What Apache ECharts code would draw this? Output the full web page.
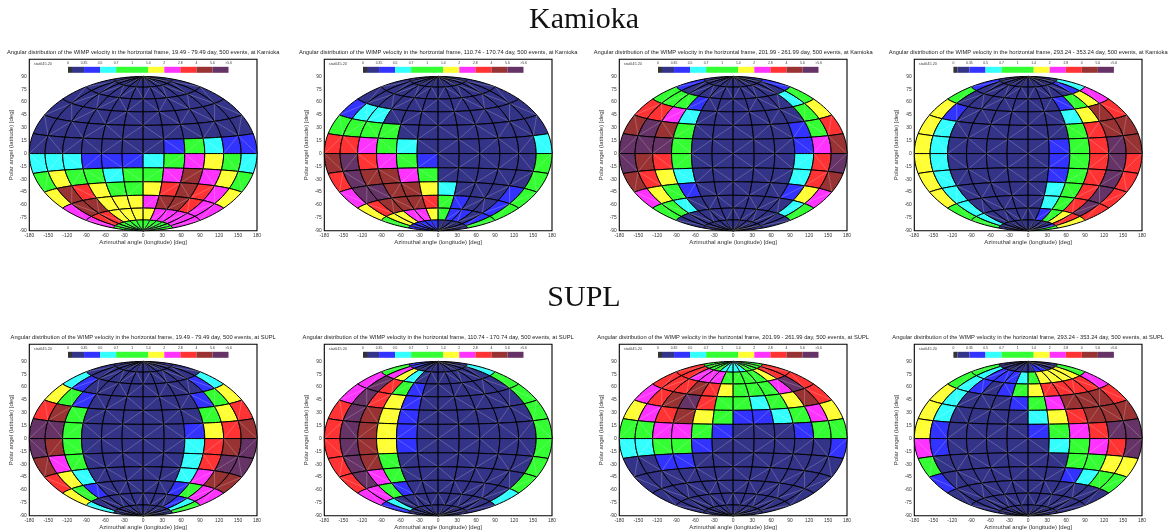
<!DOCTYPE html>
<html><head><meta charset="utf-8">
<style>html,body{margin:0;padding:0;background:#fff}#c{width:1174px;height:532px}</style>
<script src="https://cdn.jsdelivr.net/npm/echarts@6/dist/echarts.min.js"></script>
</head><body><div id="c"></div>
<script>
// Bin index per cell: rows run from latitude +90 down to -90, columns from longitude -180 to +180.
const kamioka1 = [
[1,1,1,1,1,1,1,1,1,1,1,1],[1,1,1,1,1,1,1,1,1,1,1,1],[1,1,1,1,1,1,1,1,1,1,1,1],[1,1,1,1,1,1,1,1,1,1,1,1],
[1,1,1,1,1,1,1,1,1,1,1,1],[1,1,1,1,1,1,1,2,4,3,2,2],[3,3,3,2,2,2,3,4,6,5,4,3],[4,5,4,4,3,4,4,6,8,6,5,4],
[5,8,7,5,4,4,5,7,8,7,6,5],[6,8,8,5,5,5,6,8,8,7,6,6],[6,7,7,5,5,5,5,6,6,6,6,6],[4,4,4,4,4,4,4,4,4,4,4,4]];
const kamioka2 = [
[1,1,1,1,1,1,1,1,1,1,1,1],[1,1,1,1,1,1,1,1,1,1,1,1],[1,1,1,1,1,1,1,1,1,1,1,1],[2,3,3,1,1,1,1,1,1,1,1,1],
[4,4,4,4,1,1,1,1,1,1,1,1],[7,7,6,4,3,1,1,1,1,1,1,3],[8,9,7,6,4,2,1,1,1,1,1,4],[7,9,8,8,6,4,1,1,1,1,1,4],
[6,9,9,8,8,5,3,1,1,1,2,4],[5,7,8,8,8,7,4,2,1,1,2,4],[4,5,5,6,6,5,4,2,2,1,2,4],[2,2,2,2,2,2,1,1,1,1,1,1]];
const kamioka3 = [
[1,1,1,1,1,1,1,1,1,1,1,1],[2,1,1,1,1,1,1,1,1,1,1,2],[4,4,4,2,1,1,1,1,1,1,3,4],[7,7,6,3,1,1,1,1,1,1,4,5],
[8,9,8,4,1,1,1,1,1,2,4,7],[9,9,9,4,1,1,1,1,1,2,6,8],[9,8,7,4,1,1,1,1,1,3,7,9],[8,7,5,3,1,1,1,1,1,3,7,8],
[6,5,4,2,1,1,1,1,1,2,5,6],[4,4,3,1,1,1,1,1,1,1,3,4],[1,1,1,1,1,1,1,1,1,1,1,1],[1,1,1,1,1,1,1,1,1,1,1,1]];
const kamioka4 = [
[1,1,1,1,1,1,1,1,1,1,1,1],[2,1,1,1,1,1,1,1,1,1,2,3],[4,1,1,1,1,1,1,1,2,4,5,6],[5,2,1,1,1,1,1,1,3,5,8,7],
[5,3,1,1,1,1,1,1,4,7,8,8],[5,3,1,1,1,1,1,2,4,7,9,8],[5,3,1,1,1,1,1,2,4,7,9,7],[5,3,1,1,1,1,1,2,4,7,9,7],
[5,3,1,1,1,1,1,3,4,7,9,7],[4,3,1,1,1,1,1,3,4,7,9,7],[4,3,1,1,1,1,1,2,4,5,7,5],[1,1,1,1,1,1,1,1,1,1,2,4]];
const supl1 = [
[1,1,1,1,1,1,1,1,1,1,1,1],[1,1,1,1,1,1,1,1,1,1,1,1],[3,2,1,1,1,1,1,1,1,1,2,3],[5,4,2,1,1,1,1,1,1,2,4,5],
[7,8,4,1,1,1,1,1,1,4,5,7],[9,9,4,1,1,1,1,1,2,5,7,8],[9,8,4,1,1,1,1,1,3,7,8,9],[8,6,4,1,1,1,1,1,3,7,9,9],
[7,5,3,1,1,1,1,1,3,6,8,8],[5,4,2,1,1,1,1,1,2,4,6,6],[3,1,1,1,1,1,1,1,1,2,3,4],[1,1,1,1,1,1,1,1,1,1,1,1]];
const supl2 = [
[2,2,1,1,1,1,1,1,1,1,1,1],[4,6,5,3,1,1,1,1,1,1,1,3],[6,9,7,4,2,1,1,1,1,1,1,4],[6,9,7,5,2,1,1,1,1,1,1,4],
[7,9,8,5,2,1,1,1,1,1,1,4],[7,9,8,5,2,1,1,1,1,1,1,4],[7,9,8,5,2,1,1,1,1,1,1,4],[7,9,8,4,1,1,1,1,1,1,1,4],
[7,9,6,4,1,1,1,1,1,1,1,4],[6,6,4,2,1,1,1,1,1,1,1,3],[2,3,1,1,1,1,1,1,1,1,1,1],[1,1,1,1,1,1,1,1,1,1,1,1]];
const supl3 = [
[4,4,4,4,3,3,3,3,4,4,4,4],[7,7,6,6,6,4,4,4,4,5,7,7],[7,7,7,8,7,5,4,4,4,6,9,7],[6,7,8,9,7,4,4,3,4,5,8,7],
[5,6,7,8,5,4,2,2,3,4,6,5],[4,4,6,6,4,2,1,1,1,2,4,4],[3,3,4,4,2,1,1,1,1,1,1,2],[1,1,2,2,1,1,1,1,1,1,1,1],
[1,1,1,1,1,1,1,1,1,1,1,1],[1,1,1,1,1,1,1,1,1,1,1,1],[1,1,1,1,1,1,1,1,1,1,1,1],[1,1,1,1,1,1,1,1,1,1,1,1]];
const supl4 = [
[1,1,1,1,1,1,1,2,2,1,1,1],[4,3,2,2,2,3,4,5,5,5,5,4],[4,3,2,1,2,4,5,7,7,7,7,6],[5,3,1,1,1,2,4,6,8,8,8,7],
[5,3,1,1,1,1,3,5,7,8,8,8],[5,2,1,1,1,1,2,4,6,7,9,9],[6,2,1,1,1,1,1,3,4,6,7,9],[4,1,1,1,1,1,1,1,4,4,5,5],
[2,1,1,1,1,1,1,1,2,3,4,4],[1,1,1,1,1,1,1,1,1,1,1,1],[1,1,1,1,1,1,1,1,1,1,1,1],[1,1,1,1,1,1,1,1,1,1,1,1]];

const lonEdges = [-180,-150,-120,-90,-60,-30,0,30,60,90,120,150,180];
const latEdges = [90,75,60,45,30,15,0,-15,-30,-45,-60,-75,-90];
const xTicks = lonEdges;
const yTicks = [-90,-75,-60,-45,-30,-15,0,15,30,45,60,75,90];
const legendLabels = ['0','0.35','0.5','0.7','1','1.4','2','2.8','4','5.6','>5.6'];
const legendStops = [0,0.25,1,2,3,5,6,7,8,9,10];
const binColors = ['#333333','#333388','#3333ff','#33ffff','#33ff33','#ffff33','#ff33ff','#ff3333','#993333','#663366'];

const panelMaps = [kamioka1,kamioka2,kamioka3,kamioka4,supl1,supl2,supl3,supl4];
const panelWindows = ['19.49 - 79.49','110.74 - 170.74','201.99 - 261.99','293.24 - 353.24',
                      '19.49 - 79.49','110.74 - 170.74','201.99 - 261.99','293.24 - 353.24'];
const panelSites = ['Kamioka','Kamioka','Kamioka','Kamioka','SUPL','SUPL','SUPL','SUPL'];
const panelStamp = ['stat045.20','stat045.20','stat045.20','stat045.20','stat045.20','stat045.20','stat045.20','stat045.20'];

// Hammer equal-area projection scaled to the -180..180 / -90..90 axes.
function hammer(lon, lat){
  const p = lat*Math.PI/180, l = lon*Math.PI/180;
  const d = Math.sqrt(1 + Math.cos(p)*Math.cos(l/2));
  return [180*Math.cos(p)*Math.sin(l/2)/d, 90*Math.sin(p)/d];
}
function renderCell(params, api){
  const lon0 = api.value(0), lon1 = api.value(1), lat0 = api.value(2), lat1 = api.value(3), bin = api.value(4);
  const pts = [], N = 6;
  for(let i=0;i<=N;i++) pts.push(hammer(lon0+(lon1-lon0)*i/N, lat0));
  for(let i=0;i<=N;i++) pts.push(hammer(lon1, lat0+(lat1-lat0)*i/N));
  for(let i=0;i<=N;i++) pts.push(hammer(lon1-(lon1-lon0)*i/N, lat1));
  for(let i=0;i<=N;i++) pts.push(hammer(lon0, lat1-(lat1-lat0)*i/N));
  const flip = (Math.round((lon0+180)/30)+Math.round((90-lat0)/15))%2===0;
  const a = api.coord(flip?hammer(lon0,lat0):hammer(lon1,lat0));
  const b = api.coord(flip?hammer(lon1,lat1):hammer(lon0,lat1));
  return {type:'group',children:[
    {type:'polygon',shape:{points:pts.map(p=>api.coord(p))},style:{fill:binColors[bin],stroke:'#000',lineWidth:1}},
    {type:'line',shape:{x1:a[0],y1:a[1],x2:b[0],y2:b[1]},style:{stroke:'rgba(255,255,255,0.38)',lineWidth:0.55}}
  ]};
}
function renderSwatch(params, api){
  const a = api.coord([api.value(0),0]), b = api.coord([api.value(1),1]);
  return {type:'rect',shape:{x:a[0],y:b[1],width:b[0]-a[0],height:a[1]-b[1]},style:{fill:binColors[api.value(2)]}};
}

const W=227.7,H=171.4;
const lefts=[29.3,324.3,619.3,914.3], tops=[59.3,344.3];
const grid=[],xAxis=[],yAxis=[],series=[],title=[];
const tf='"Liberation Sans",Arial,sans-serif';
title.push({text:'Kamioka',left:584,top:5,padding:0,textAlign:'center',textStyle:{fontFamily:'"Liberation Serif",serif',fontWeight:'normal',fontSize:30,color:'#111'}});
title.push({text:'SUPL',left:584,top:283,padding:0,textAlign:'center',textStyle:{fontFamily:'"Liberation Serif",serif',fontWeight:'normal',fontSize:30,color:'#111'}});
panelMaps.forEach((rows,k)=>{
  const L=lefts[k%4], T=tops[k<4?0:1];
  grid.push({left:L,top:T,width:W,height:H,show:true,borderColor:'#000',borderWidth:1.1,backgroundColor:'#fff'});
  const gi=grid.length-1;
  xAxis.push({type:'value',gridIndex:gi,min:-180,max:180,interval:30,splitLine:{show:false},axisLine:{show:false},
    axisTick:{show:true,inside:true,length:2,lineStyle:{color:'#000',width:0.5},customValues:xTicks},
    axisLabel:{fontSize:4.9,margin:2.5,color:'#333',fontFamily:tf,customValues:xTicks},
    name:'Azimuthal angle (longitude) [deg]',nameLocation:'middle',nameGap:9,nameTextStyle:{fontSize:6,color:'#333',fontFamily:tf}});
  yAxis.push({type:'value',gridIndex:gi,min:-90,max:110,interval:15,splitLine:{show:false},axisLine:{show:false},
    axisTick:{show:true,inside:true,length:2,lineStyle:{color:'#000',width:0.5},customValues:yTicks},
    axisLabel:{fontSize:4.9,margin:2.5,color:'#333',fontFamily:tf,customValues:yTicks},
    name:'Polar angel (latitude) [deg]',nameLocation:'middle',nameGap:15,nameTextStyle:{fontSize:6,color:'#333',fontFamily:tf}});
  const cells=[];
  rows.forEach((r,i)=>r.forEach((b,j)=>cells.push([lonEdges[j],lonEdges[j+1],latEdges[i],latEdges[i+1],b])));
  series.push({type:'custom',xAxisIndex:gi,yAxisIndex:gi,silent:true,animation:false,clip:false,
    renderItem:renderCell,data:cells,encode:{x:0,y:2},z:2});
  const off=(k%4===3)?39.1:38.7;
  grid.push({left:L+off,top:T+7.5,width:160.5,height:6,show:false});
  const li=grid.length-1;
  xAxis.push({type:'value',gridIndex:li,min:0,max:10,interval:1,position:'top',splitLine:{show:false},axisLine:{show:false},axisTick:{show:false},
    axisLabel:{fontSize:3.4,margin:1.8,color:'#333',fontFamily:tf,formatter:(v)=>legendLabels[v]}});
  yAxis.push({type:'value',gridIndex:li,min:0,max:1,show:false});
  const sw=[];
  for(let s=0;s<legendStops.length-1;s++) sw.push([legendStops[s],legendStops[s+1],s]);
  series.push({type:'custom',xAxisIndex:li,yAxisIndex:li,silent:true,animation:false,renderItem:renderSwatch,data:sw,encode:{x:[0,1]},z:3});
  title.push({text:'Angular distribution of the WIMP velocity in the horizontal frame, '+panelWindows[k]+' day, 500 events, at '+panelSites[k],
    left:L+W/2,top:T-9.5,padding:0,textAlign:'center',textStyle:{fontFamily:tf,fontWeight:'normal',fontSize:5.75,color:'#222'}});
  title.push({text:panelStamp[k],left:L+4.5,top:T+2.6,padding:0,textStyle:{fontFamily:tf,fontWeight:'normal',fontSize:3.9,color:'#444'}});
});
const chart=echarts.init(document.getElementById('c'),null,{renderer:'canvas'});
chart.setOption({animation:false,backgroundColor:'#fff',title,grid,xAxis,yAxis,series});
</script></body></html>
